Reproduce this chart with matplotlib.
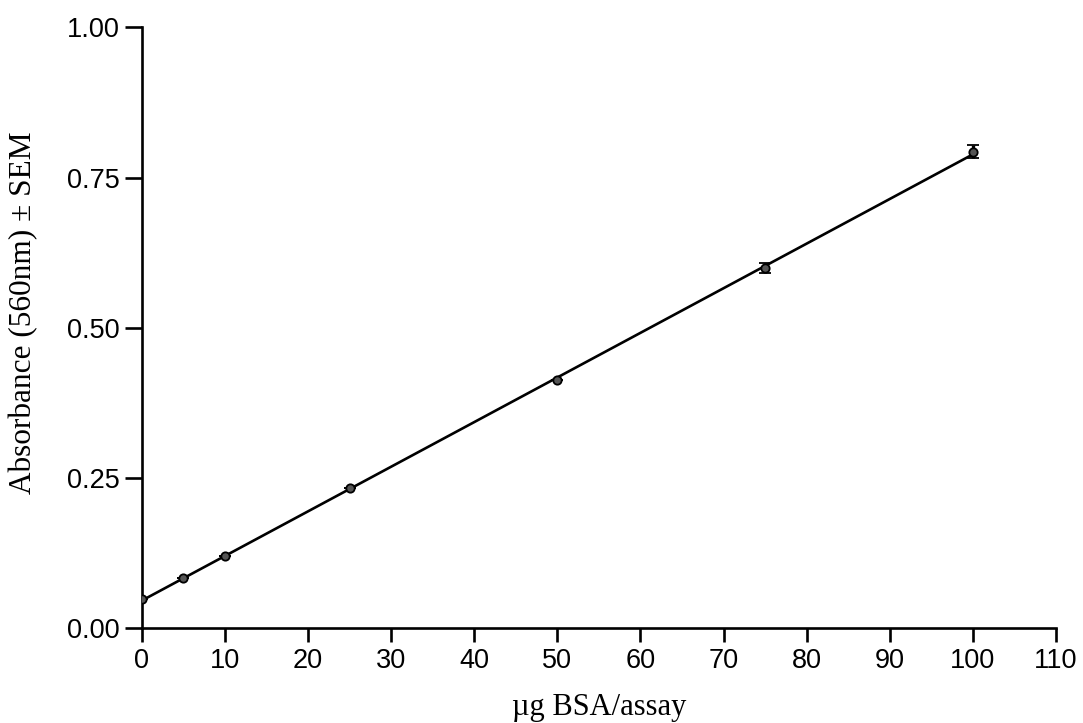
import numpy as np
import matplotlib
matplotlib.use("Agg")
import matplotlib.pyplot as plt

# Data
bsa_ug = [0, 5, 10, 25, 50, 75, 100]
absorbance = [0.048, 0.083, 0.121, 0.233, 0.413, 0.600, 0.793]
sem = [0.0, 0.0, 0.0, 0.0, 0.0, 0.008, 0.011]

x_ticks = [0, 10, 20, 30, 40, 50, 60, 70, 80, 90, 100, 110]
y_ticks = [0.00, 0.25, 0.50, 0.75, 1.00]
y_tick_labels = ["0.00", "0.25", "0.50", "0.75", "1.00"]

x_label = "\u00b5g BSA/assay"
y_label = "Absorbance (560nm) \u00b1 SEM"

fig = plt.figure(figsize=(10.83, 7.23), dpi=100)
ax = fig.add_axes([0.131, 0.131, 0.844, 0.831])

# Linear fit line through the standards
coef = np.polyfit(bsa_ug, absorbance, 1)
xf = np.array([min(bsa_ug), max(bsa_ug)])
ax.plot(xf, np.polyval(coef, xf), color="black", lw=1.9, zorder=2)

ax.errorbar(bsa_ug, absorbance, yerr=sem, fmt="o", ms=6, mfc="#555555",
            mec="black", mew=1.3, ecolor="black", elinewidth=2.4,
            capsize=4.5, capthick=2.4, zorder=3)

ax.set_xlim(0, 110)
ax.set_ylim(0, 1.0)
ax.set_xticks(x_ticks)
ax.set_yticks(y_ticks)
ax.set_yticklabels(y_tick_labels)

for s in ["top", "right"]:
    ax.spines[s].set_visible(False)
for s in ["left", "bottom"]:
    ax.spines[s].set_linewidth(1.9)

ax.tick_params(axis="both", direction="out", width=1.9, labelsize=19.5,
               colors="black")
ax.tick_params(axis="y", length=12, pad=4)
ax.tick_params(axis="x", length=10, pad=4)
for lab in ax.get_xticklabels() + ax.get_yticklabels():
    lab.set_family(["Liberation Sans", "DejaVu Sans"])

ax.set_xlabel(x_label, family=["Liberation Serif", "DejaVu Serif"],
              fontsize=22)
ax.set_ylabel(y_label, family=["Liberation Serif", "DejaVu Serif"],
              fontsize=22.5)
ax.xaxis.set_label_coords(0.5, -0.108)
ax.yaxis.set_label_coords(-0.113, 0.525)

fig.savefig("out.png", dpi=100)
